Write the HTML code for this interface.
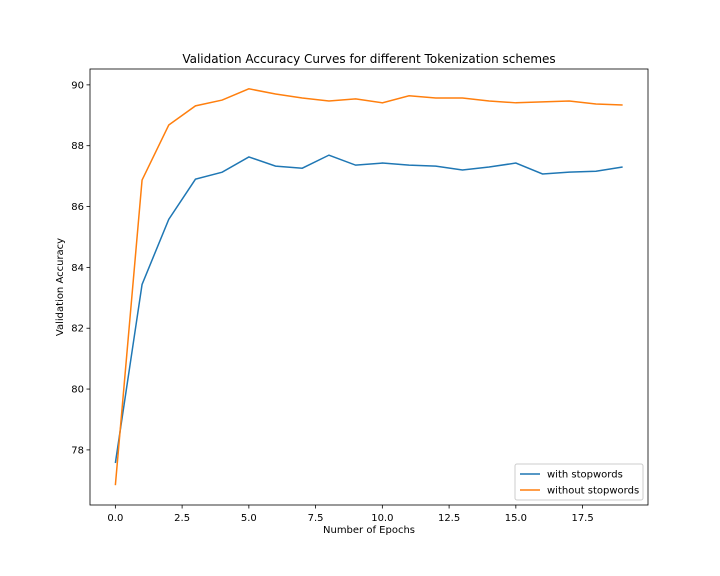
<!DOCTYPE html>
<html><head><meta charset="utf-8"><style>
body{margin:0;background:#fff;}
svg{display:block;font-family:"DejaVu Sans","Liberation Sans",sans-serif;}
</style></head><body>
<svg id="chart" width="720" height="576">
<rect width="720" height="576" fill="#fff"/>
<g id="axes"></g>
</svg>
<script>
const epochs=[0,1,2,3,4,5,6,7,8,9,10,11,12,13,14,15,16,17,18,19];
const withStop=[77.57,83.44,85.58,86.9,87.13,87.63,87.33,87.26,87.69,87.36,87.43,87.36,87.33,87.2,87.3,87.43,87.07,87.13,87.16,87.3];
const withoutStop=[76.84,86.87,88.68,89.31,89.5,89.87,89.7,89.57,89.47,89.54,89.41,89.64,89.57,89.57,89.47,89.41,89.44,89.47,89.37,89.34];
const xTicks=[0,2.5,5,7.5,10,12.5,15,17.5];
const xTickLabels=["0.0","2.5","5.0","7.5","10.0","12.5","15.0","17.5"];
const yTicks=[78,80,82,84,86,88,90];
const yTickLabels=["78","80","82","84","86","88","90"];

const L=90,R=648,T=69,B=505;
const all=withStop.concat(withoutStop);
const ymin=Math.min(...all),ymax=Math.max(...all),ym=(ymax-ymin)*0.05;
const xmin=Math.min(...epochs),xmax=Math.max(...epochs),xm=(xmax-xmin)*0.05;
const X=v=>L+(v-(xmin-xm))/((xmax+xm)-(xmin-xm))*(R-L);
const Y=v=>B-(v-(ymin-ym))/((ymax+ym)-(ymin-ym))*(B-T);
const NS="http://www.w3.org/2000/svg";
const g=document.getElementById('axes');
function mk(t,a){const e=document.createElementNS(NS,t);for(const k in a)e.setAttribute(k,a[k]);g.appendChild(e);return e;}

function line(data,color,name){
  const p=mk('polyline',{points:data.map((v,i)=>X(epochs[i])+','+Y(v)).join(' '),fill:'none',stroke:color,'stroke-width':1.5});
  
  
}
line(withStop,'#1f77b4','series-with-stopwords');
line(withoutStop,'#ff7f0e','series-without-stopwords');

const frame=mk('rect',{x:L,y:T,width:R-L,height:B-T,fill:'none',stroke:'#000','stroke-width':0.8});



xTicks.forEach((v,i)=>{
  mk('line',{x1:X(v),x2:X(v),y1:B,y2:B+3.5,stroke:'#000','stroke-width':0.8});
  const t=mk('text',{x:X(v),y:B+16,'text-anchor':'middle','font-size':10});
  t.textContent=xTickLabels[i];
  
  
});
yTicks.forEach((v,i)=>{
  mk('line',{x1:L-3.5,x2:L,y1:Y(v),y2:Y(v),stroke:'#000','stroke-width':0.8});
  const t=mk('text',{x:L-6,y:Y(v)+3.5,'text-anchor':'end','font-size':10});
  t.textContent=yTickLabels[i];
  
  
});

let t=mk('text',{x:(L+R)/2,y:T-6,'text-anchor':'middle','font-size':12});
t.textContent='Validation Accuracy Curves for different Tokenization schemes';


t=mk('text',{x:(L+R)/2,y:B+28,'text-anchor':'middle','font-size':10});
t.textContent='Number of Epochs';


t=mk('text',{x:63,y:(T+B)/2,'text-anchor':'middle','font-size':10,transform:'rotate(-90 63 '+((T+B)/2)+')'});
t.textContent='Validation Accuracy';



const lg=mk('rect',{x:515,y:464,width:128,height:36,rx:2,fill:'#fff','fill-opacity':0.8,stroke:'#ccc','stroke-width':1});


[['with stopwords','#1f77b4',474],['without stopwords','#ff7f0e',490]].forEach(([lab,c,y])=>{
  mk('line',{x1:520,x2:540,y1:y,y2:y,stroke:c,'stroke-width':1.5});
  const e=mk('text',{x:547,y:y+3.5,'font-size':10});
  e.textContent=lab;
  
  
});
</script>
</body></html>
